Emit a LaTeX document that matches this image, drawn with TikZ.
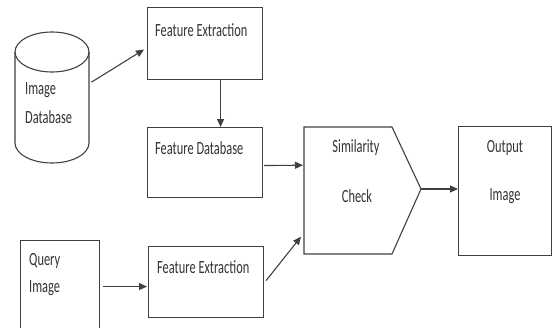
\documentclass[tikz,border=0pt]{standalone}
\usepackage{fontspec}
\setmainfont{Carlito}
\usepackage{graphicx}
\usetikzlibrary{arrows.meta,calc}

% labels are set narrow and tall
\newcommand\lbl[1]{\scalebox{1}[1.5]{\fontsize{12.4}{15}\selectfont #1}}

\tikzset{
  line/.style={draw=black!75, line width=1.1pt},
  stepbox/.style={line, rectangle, inner sep=0pt, anchor=north west},
  txt/.style={inner sep=0pt, text=black!80, font=\fontsize{12.4}{15}\selectfont},
  flow/.style={line, -{Triangle[length=8pt,width=7pt]}, shorten >=0pt}
}

\begin{document}
\begin{tikzpicture}[x=1pt,y=-1pt]
  \useasboundingbox (0,0) rectangle (552,327);

  % image database cylinder
  \draw[line, fill=white] (15,52) -- (15,143)
      arc[start angle=180, end angle=360, x radius=37pt, y radius=20pt]
      -- (89,52);
  \draw[line] (52,52) ellipse [x radius=37pt, y radius=20pt];
  \node[inner sep=0pt, minimum width=74pt, minimum height=131pt, anchor=north west] (db) at (15,32) {};
  \node[txt, anchor=west] (dbt1) at (25,90) {\lbl{Image}};
  \node[txt, anchor=west] (dbt2) at (25,117) {\lbl{Database}};

  % feature extraction for the database
  \node[stepbox, minimum width=115pt, minimum height=72pt] (fe1) at (147,7) {};
  \node[txt, anchor=west] (fe1t) at (155,30) {\lbl{Feature Extraction}};

  % feature database
  \node[stepbox, minimum width=115pt, minimum height=70pt] (fd) at (147,127) {};
  \node[txt, anchor=west] (fdt) at (155,148) {\lbl{Feature Database}};

  % query image
  \node[stepbox, minimum width=79pt, minimum height=95pt] (q) at (20,240) {};
  \node[txt, anchor=west] (qt1) at (29,261) {\lbl{Query}};
  \node[txt, anchor=west] (qt2) at (29,288) {\lbl{Image}};

  % feature extraction for the query
  \node[stepbox, minimum width=115pt, minimum height=71pt] (fe2) at (148,246) {};
  \node[txt, anchor=west] (fe2t) at (157,267) {\lbl{Feature Extraction}};

  % similarity check (pentagon pointing right)
  \draw[line] (304,127) -- (392,127) -- (421,189) -- (392,254) -- (304,254) -- cycle;
  \coordinate (simtip) at (421,189);
  \node[inner sep=0pt, minimum width=117pt, minimum height=127pt, anchor=north west] (sim) at (304,127) {};
  \node[txt] (simt1) at (356,148) {\lbl{Similarity}};
  \node[txt] (simt2) at (357,196) {\lbl{Check}};

  % output image
  \node[stepbox, minimum width=93pt, minimum height=129pt] (out) at (458,126) {};
  \node[txt] (outt1) at (505,148) {\lbl{Output}};
  \node[txt] (outt2) at (505,196) {\lbl{Image}};

  % connectors
  \draw[flow] ($(db.east)+(2,-15.5)$) -- ($(fe1.west)+(-3,6)$);
  \draw[flow] ($(fe1.south)+(15.5,0)$) -- ($(fd.north)+(15.5,0)$);
  \draw[flow] ($(fd.east)+(1,3)$) -- ($(sim.west)+(-1,-25.5)$);
  \draw[flow] ($(q.east)+(3,-1.5)$) -- ($(fe2.west)+(-1,4.5)$);
  \draw[flow] ($(fe2.east)+(2,-1.5)$) -- ($(sim.west)+(-3,46)$);
  \draw[flow] (simtip) -- (simtip -| out.west);
\end{tikzpicture}
\end{document}
